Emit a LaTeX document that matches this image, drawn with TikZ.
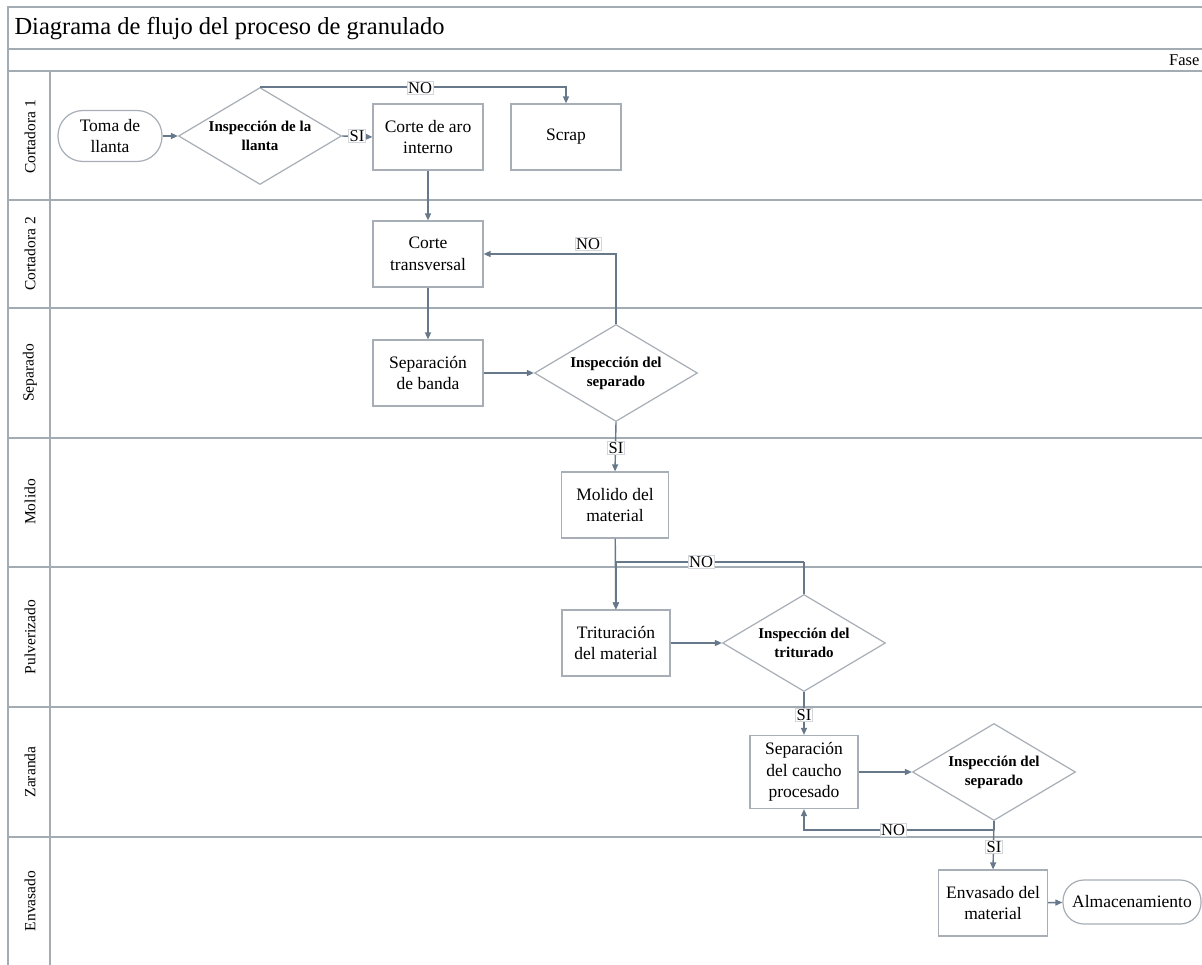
\documentclass[tikz,border=0pt]{standalone}
\usepackage{fontspec}
\setmainfont{Liberation Serif}
\usetikzlibrary{shapes.geometric,arrows.meta,calc}
\definecolor{laneline}{HTML}{A3ABB3}
\definecolor{boxline}{HTML}{A7AEB5}
\definecolor{flow}{HTML}{66788A}
\begin{document}
\begin{tikzpicture}[x=1pt,y=-1pt,
  every node/.style={font=\fontsize{17.5}{21.5}\selectfont, align=center},
  procbox/.style={draw=boxline, line width=1.2pt, fill=white, minimum width=110pt, minimum height=66pt, inner sep=1pt},
  termbox/.style={draw=boxline, line width=1.2pt, fill=white, rounded corners=25pt, minimum height=51pt, inner sep=1pt},
  decision/.style={draw=boxline, line width=1.2pt, fill=white, diamond, aspect=1.9, inner sep=0pt,
     minimum width=163pt, minimum height=97pt, font=\fontsize{15}{19}\selectfont\bfseries},
  flowline/.style={draw=flow, line width=1.4pt, -{Triangle[length=7pt,width=6pt]}},
  plainflow/.style={draw=flow, line width=1.4pt},
  tag/.style={fill=white, draw=boxline!50, line width=0.5pt, inner sep=1pt, font=\fontsize{16.5}{18}\selectfont},
  lanelabel/.style={rotate=90, font=\fontsize{15.5}{18}\selectfont},
  lane/.style={draw=laneline, line width=1.6pt}]
\useasboundingbox (0,0) rectangle (1202,965);

% frame, header and swimlanes
\draw[lane] (1202,7) -- (8,7) -- (8,965);
\draw[lane] (8,49) -- (1202,49);
\draw[lane] (8,71) -- (1202,71);
\draw[lane] (50,71) -- (50,965);
\foreach \y in {200,308,438,567,707,837} \draw[lane] (8,\y) -- (1202,\y);
\node[anchor=west, font=\fontsize{24.5}{28}\selectfont] (title) at (11,29) {Diagrama de flujo del proceso de granulado};
\node[anchor=east, font=\fontsize{16.5}{18}\selectfont] (fase) at (1203,60) {Fase};

\node[lanelabel] (l1) at (30,137) {Cortadora 1};
\node[lanelabel] (l2) at (30,254) {Cortadora 2};
\node[lanelabel] (l3) at (30,373) {Separado};
\node[lanelabel] (l4) at (30,502) {Molido};
\node[lanelabel] (l5) at (30,637) {Pulverizado};
\node[lanelabel] (l6) at (30,772) {Zaranda};
\node[lanelabel] (l7) at (30,901) {Envasado};

% process steps
\node[termbox, minimum width=104pt] (toma) at (110,136) {Toma de\\llanta};
\node[decision] (d1) at (260,136) {Inspección de la\\llanta};
\node[procbox] (aro) at (428,137) {Corte de aro\\interno};
\node[procbox] (scrap) at (566,137) {Scrap};
\node[procbox] (ctrans) at (428,254) {Corte\\transversal};
\node[procbox] (banda) at (428,373) {Separación\\de banda};
\node[decision] (d2) at (616,373) {Inspección del\\separado};
\node[procbox, minimum width=107pt] (molido) at (615,505) {Molido del\\material};
\node[procbox, minimum width=108pt] (trit) at (616,643) {Trituración\\del material};
\node[decision] (d3) at (804,643) {Inspección del\\triturado};
\node[procbox, minimum width=108pt, minimum height=73pt] (caucho) at (804,772) {Separación\\del caucho\\procesado};
\node[decision] (d4) at (994,772) {Inspección del\\separado};
\node[procbox, minimum width=109pt] (envas) at (993,903) {Envasado del\\material};
\node[termbox, minimum width=138pt, minimum height=44pt, rounded corners=21pt] (almac) at (1132,902) {Almacenamiento};

% bend points of the return loops
\coordinate (k3) at (804,562);
\coordinate (k4) at (994,830);

% connectors
\draw[flowline] (toma) -- (d1);
\draw[flowline] (d1.east) -- (aro.west);
\draw[flowline] (d1.north) -| (scrap.north);
\draw[flowline] (aro) -- (ctrans);
\draw[flowline] (ctrans) -- (banda);
\draw[flowline] (banda) -- (d2.west);
\draw[flowline] (d2.north) |- (ctrans.east);
\draw[flowline] (d2.south) -- (molido.north);
\draw[flowline] (molido) -- (trit);
\draw[plainflow] (d3.north) -- (k3);
\draw[flowline] (k3) -| (trit.north);
\draw[flowline] (trit) -- (d3.west);
\draw[flowline] (d3.south) -- (caucho.north);
\draw[flowline] (caucho) -- (d4.west);
\draw[plainflow] (d4.south) -- (k4);
\draw[flowline] (k4) -| (caucho.south);
\draw[flowline] (d4.south) -- (envas.north);
\draw[flowline] (envas) -- (almac);

% branch tags
\node[tag] (si1) at (357,136) {SI};
\node[tag] (no1) at (420,88) {NO};
\node[tag] (no2) at (588,244) {NO};
\node[tag] (si2) at (616,448) {SI};
\node[tag] (no3) at (701,562) {NO};
\node[tag] (si3) at (804,715) {SI};
\node[tag] (no4) at (893,830) {NO};
\node[tag] (si4) at (994,847) {SI};
\end{tikzpicture}
\end{document}
